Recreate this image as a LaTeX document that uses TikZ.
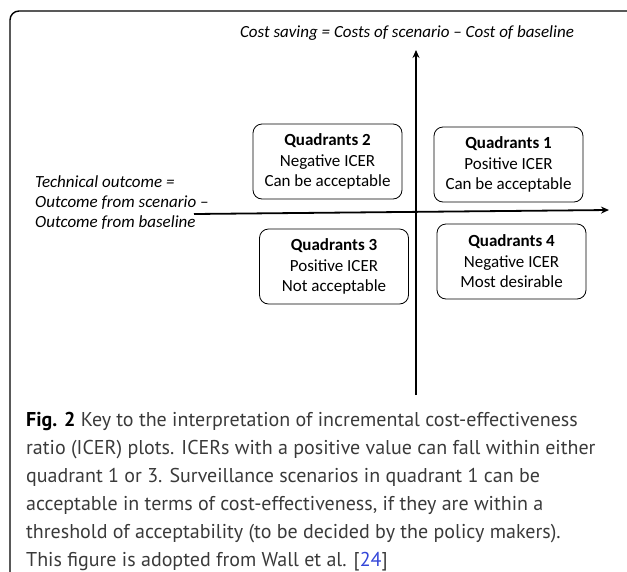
\documentclass[tikz,border=0pt]{standalone}
\usepackage{fontspec}
\setmainfont{Carlito}
\newfontfamily\capfont{PT Sans}
\usetikzlibrary{positioning, arrows.meta}

\definecolor{captiongray}{HTML}{3A3A3A}
\definecolor{linkblue}{HTML}{3346D8}

\tikzset{
    quadbox/.style={draw, rounded corners=9pt, line width=0.8pt, minimum width=149pt,
        minimum height=75pt, align=center, inner sep=2pt,
        font=\fontsize{17}{20.5}\selectfont},
    axis/.style={line width=1.8pt, -{Stealth[length=8pt, width=7pt]}},
    axislabel/.style={font=\fontsize{17}{20}\selectfont\itshape, inner sep=0pt}
}

\begin{document}
\begin{tikzpicture}[x=1pt, y=-1pt]
    \useasboundingbox (0,0) rectangle (627,571);

    % frame
    \draw[line width=1.4pt, rounded corners=9pt] (640,11) -- (10,11) -- (10,580);

    % axes
    \coordinate (ytop) at (416,50);
    \coordinate (ybot) at (416,395);
    \coordinate (xleft) at (194,214);
    \coordinate (xright) at (609,210);

    \draw[axis] (ybot) -- (ytop);
    \draw[axis] (xleft) -- (xright);

    % axis labels
    \node[axislabel] (costlabel) at (407,33) {Cost saving = Costs of scenario -- Cost of baseline};
    \node[axislabel, anchor=west, align=left] (outcomelabel) at (35,203)
        {Technical outcome =\\Outcome from scenario --\\Outcome from baseline};

    % quadrants
    \foreach \name/\cx/\cy/\num/\sign/\verdict in {
        q1/508.5/164.5/1/Positive/Can be acceptable,
        q2/327.5/161.5/2/Negative/Can be acceptable,
        q3/334/266.5/3/Positive/Not acceptable,
        q4/511.5/261.5/4/Negative/Most desirable}
    {
        \node[quadbox] (\name) at (\cx,\cy) {\textbf{Quadrants \num}\\\sign{} ICER\\\verdict};
    }

    % caption
    \node[anchor=north west, align=left, inner sep=0pt, text=captiongray,
        font=\capfont\fontsize{20}{28}\selectfont] (caption) at (26,412)
        {\textbf{\color{black}Fig. 2} Key to the interpretation of incremental cost-effectiveness\\
         ratio (ICER) plots. ICERs with a positive value can fall within either\\
         quadrant 1 or 3. Surveillance scenarios in quadrant 1 can be\\
         acceptable in terms of cost-effectiveness, if they are within a\\
         threshold of acceptability (to be decided by the policy makers).\\
         This figure is adopted from Wall et al. [{\color{linkblue}24}]};
\end{tikzpicture}
\end{document}
